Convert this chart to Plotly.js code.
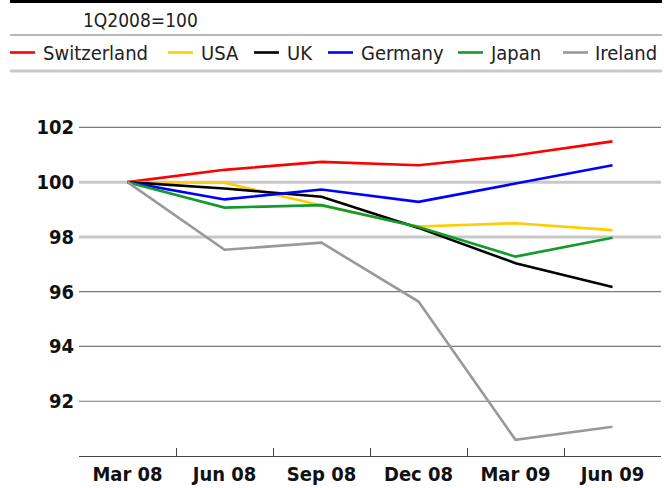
<!DOCTYPE html>
<html>
<head>
<meta charset="utf-8">
<script src="https://cdn.plot.ly/plotly-3.0.1.min.js"></script>
<style>
html,body{margin:0;padding:0;background:#fff;}
#chart{width:664px;height:488px;}
</style>
</head>
<body>
<div id="chart"></div>
<script>
// ---- data ----
const quarters = ["Mar 08", "Jun 08", "Sep 08", "Dec 08", "Mar 09", "Jun 09"];
const switzerland = [100, 100.45, 100.74, 100.62, 100.98, 101.49];
const usa         = [100, 99.98, 99.15, 98.38, 98.50, 98.25];
const uk          = [100, 99.77, 99.47, 98.33, 97.04, 96.17];
const germany     = [100, 99.37, 99.73, 99.28, 99.95, 100.62];
const japan       = [100, 99.07, 99.16, 98.36, 97.28, 97.97];
const ireland     = [100, 97.53, 97.79, 95.64, 90.59, 91.07];
const seriesNames = ["Switzerland", "USA", "UK", "Germany", "Japan", "Ireland"];
const yTicks = [92, 94, 96, 98, 100, 102];
const subtitle = "1Q2008=100";

const seriesValues = [switzerland, usa, uk, germany, japan, ireland];
const colors = ["#ff0000", "#ffcc00", "#000000", "#0000ff", "#149a2c", "#999999"];

// ---- geometry ----
const W = 664, H = 488;
const M = {l: 79, r: 3, t: 100, b: 32};
const pw = W - M.l - M.r, ph = H - M.t - M.b;
const px2x = p => (p - M.l) / pw;
const px2y = p => (H - M.b - p) / ph;

const traces = seriesNames.map((n, i) => ({
  type: "scatter", mode: "lines", name: n,
  x: quarters, y: seriesValues[i],
  line: {color: colors[i], width: 2.6},
  showlegend: false, hoverinfo: "skip"
}));

const shapes = [];
// gridlines
yTicks.forEach(v => {
  const thick = (v === 98 || v === 100);
  shapes.push({type: "line", xref: "paper", yref: "y", x0: 0, x1: 1, y0: v, y1: v,
    line: {color: thick ? "#c8c8c8" : "#7a7a7a", width: thick ? 3 : 1.2}, layer: "below"});
});
// header rules
shapes.push({type: "line", xref: "paper", yref: "paper", x0: px2x(10), x1: px2x(662), y0: px2y(1.5), y1: px2y(1.5), line: {color: "#000", width: 3}});
shapes.push({type: "line", xref: "paper", yref: "paper", x0: px2x(10), x1: px2x(662), y0: px2y(35), y1: px2y(35), line: {color: "#a0a0a0", width: 1.5}});
shapes.push({type: "line", xref: "paper", yref: "paper", x0: px2x(10), x1: px2x(662), y0: px2y(71), y1: px2y(71), line: {color: "#c8c8c8", width: 3}});

// legend (manual)
const legLineX = [10, 168, 254, 328, 458, 563];
const legTextX = [41, 199, 285, 359, 488, 593];
const annotations = [];
seriesNames.forEach((n, i) => {
  shapes.push({type: "line", xref: "paper", yref: "paper",
    x0: px2x(legLineX[i]), x1: px2x(legLineX[i] + 25), y0: px2y(52.5), y1: px2y(52.5),
    line: {color: colors[i], width: 2.6}});
  annotations.push({xref: "paper", yref: "paper", x: px2x(legTextX[i]), y: px2y(53),
    xanchor: "left", yanchor: "middle", showarrow: false, text: n,
    font: {family: "DejaVu Sans Condensed", size: 20, color: "#222"}});
});
annotations.push({xref: "paper", yref: "paper", x: px2x(81), y: px2y(20),
  xanchor: "left", yanchor: "middle", showarrow: false, text: subtitle,
  font: {family: "DejaVu Sans Condensed", size: 19, color: "#222"}});

const layout = {
  width: W, height: H,
  margin: M,
  paper_bgcolor: "#fff", plot_bgcolor: "#fff",
  showlegend: false,
  xaxis: {
    type: "category", range: [-0.5, 5.5],
    showgrid: false, zeroline: false,
    showline: true, linecolor: "#444", linewidth: 1.2,
    ticks: "inside", tickson: "boundaries", ticklen: 8, tickcolor: "#444", tickwidth: 1,
    tickfont: {family: "DejaVu Sans Condensed", size: 20, color: "#111", weight: "bold"},
    fixedrange: true
  },
  yaxis: {
    range: [90, 103], tickvals: yTicks, showgrid: false, zeroline: false,
    showline: false, ticks: "",
    ticklabelstandoff: 4,
    tickfont: {family: "DejaVu Sans Condensed", size: 20, color: "#111", weight: "bold"},
    fixedrange: true
  },
  shapes: shapes,
  annotations: annotations
};

Plotly.newPlot("chart", traces, layout, {displayModeBar: false, staticPlot: true});
</script>
</body>
</html>
